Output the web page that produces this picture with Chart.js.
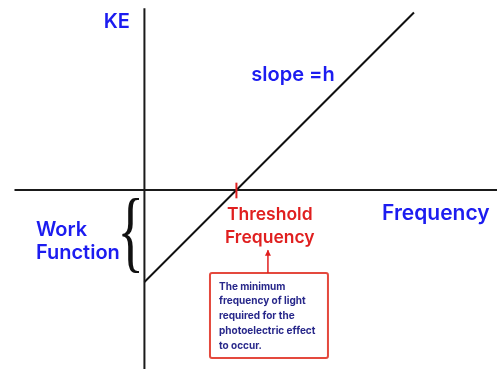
<!DOCTYPE html>
<html>
<head>
<meta charset="utf-8">
<script src="https://cdn.jsdelivr.net/npm/chart.js@4.4.0/dist/chart.umd.min.js"></script>
<style>
  html, body { margin: 0; padding: 0; background: #fff; }
  #wrap { width: 497px; height: 369px; position: relative; }
</style>
</head>
<body>
<div id="wrap"><canvas id="c" width="497" height="369"></canvas></div>
<script>
// ---- data (arbitrary units) ----
const lineFrequencies = [0, 11.72];
const lineKE = [-4, 7.72];
const thresholdFrequency = 4;
const xAxisExtent = [-5.65, 15.4];
const yAxisExtent = [7.9, -7.9];
const xRange = [-6.28, 15.33];
const yRange = [-7.78, 8.26];

const BLUE = '#1c1cf0';
const RED = '#e01f1f';
const FONT = 'Inter, "Noto Sans", sans-serif';

const annotations = {
  id: 'annotations',
  afterDatasetsDraw(chart) {
    const ctx = chart.ctx;
    const xs = chart.scales.x, ys = chart.scales.y;
    const px = v => xs.getPixelForValue(v);
    const py = v => ys.getPixelForValue(v);
    ctx.save();
    ctx.textBaseline = 'middle';

    function text(str, x, y, size, color, align, weight) {
      ctx.font = (weight || '600') + ' ' + size + 'px ' + FONT;
      ctx.fillStyle = color;
      ctx.textAlign = align || 'center';
      ctx.fillText(str, px(x), py(y));
    }
    text('KE', -1.2, 7.3, 20, BLUE);
    text('slope =h', 6.46, 5.0, 20, BLUE);
    text('Frequency', 12.67, -1.04, 21, BLUE);
    text('Work', -4.72, -1.72, 20, BLUE, 'left');
    text('Function', -4.72, -2.72, 20, BLUE, 'left');
    text('Threshold', 5.45, -1.08, 17.5, RED);
    text('Frequency', 5.45, -2.08, 17.5, RED);

    // threshold tick
    ctx.strokeStyle = RED;
    ctx.lineWidth = 2;
    ctx.beginPath();
    ctx.moveTo(px(thresholdFrequency), py(0.32));
    ctx.lineTo(px(thresholdFrequency), py(-0.36));
    ctx.stroke();

    // brace
    ctx.save();
    ctx.fillStyle = '#111';
    ctx.font = '400 90px "Liberation Serif", serif';
    ctx.textAlign = 'center';
    ctx.textBaseline = 'middle';
    ctx.translate(px(-0.6), py(-2.05));
    ctx.scale(0.62, 1);
    ctx.fillText('{', 0, 0);
    ctx.restore();

    // box
    const bl = px(2.85), br = px(7.98), bt = py(-3.61), bb = py(-7.30);
    ctx.strokeStyle = '#e4493d';
    ctx.lineWidth = 2;
    ctx.beginPath();
    if (ctx.roundRect) ctx.roundRect(bl, bt, br - bl, bb - bt, 2); else ctx.rect(bl, bt, br - bl, bb - bt);
    ctx.stroke();

    // arrow
    const ax = px(5.37);
    ctx.strokeStyle = RED;
    ctx.lineWidth = 1.5;
    ctx.beginPath();
    ctx.moveTo(ax, bt);
    ctx.lineTo(ax, py(-2.62));
    ctx.stroke();
    ctx.fillStyle = RED;
    ctx.beginPath();
    ctx.moveTo(ax, py(-2.6));
    ctx.lineTo(ax - 3, py(-2.6) + 6);
    ctx.lineTo(ax + 3, py(-2.6) + 6);
    ctx.closePath();
    ctx.fill();

    // box text
    const boxLines = ['The minimum', 'frequency of light', 'required for the', 'photoelectric effect', 'to occur.'];
    ctx.font = '700 10px ' + FONT;
    ctx.fillStyle = '#27278a';
    ctx.textAlign = 'left';
    boxLines.forEach((s, i) => ctx.fillText(s, bl + 9, bt + 13.5 + i * 14.8));

    ctx.restore();
  }
};

new Chart(document.getElementById('c'), {
  type: 'scatter',
  data: {
    datasets: [
      { data: xAxisExtent.map(x => ({ x, y: 0 })), showLine: true, borderColor: '#1a1a1a', borderWidth: 2, pointRadius: 0, clip: false },
      { data: yAxisExtent.map(y => ({ x: 0, y })), showLine: true, borderColor: '#1a1a1a', borderWidth: 2, pointRadius: 0, clip: false },
      { data: lineFrequencies.map((f, i) => ({ x: f, y: lineKE[i] })), showLine: true, borderColor: '#111', borderWidth: 2, pointRadius: 0, clip: false }
    ]
  },
  options: {
    responsive: false,
    animation: false,
    layout: { padding: 0 },
    plugins: { legend: { display: false }, tooltip: { enabled: false } },
    scales: {
      x: { type: 'linear', display: false, min: xRange[0], max: xRange[1] },
      y: { type: 'linear', display: false, min: yRange[0], max: yRange[1] }
    }
  },
  plugins: [annotations]
});
</script>
</body>
</html>
